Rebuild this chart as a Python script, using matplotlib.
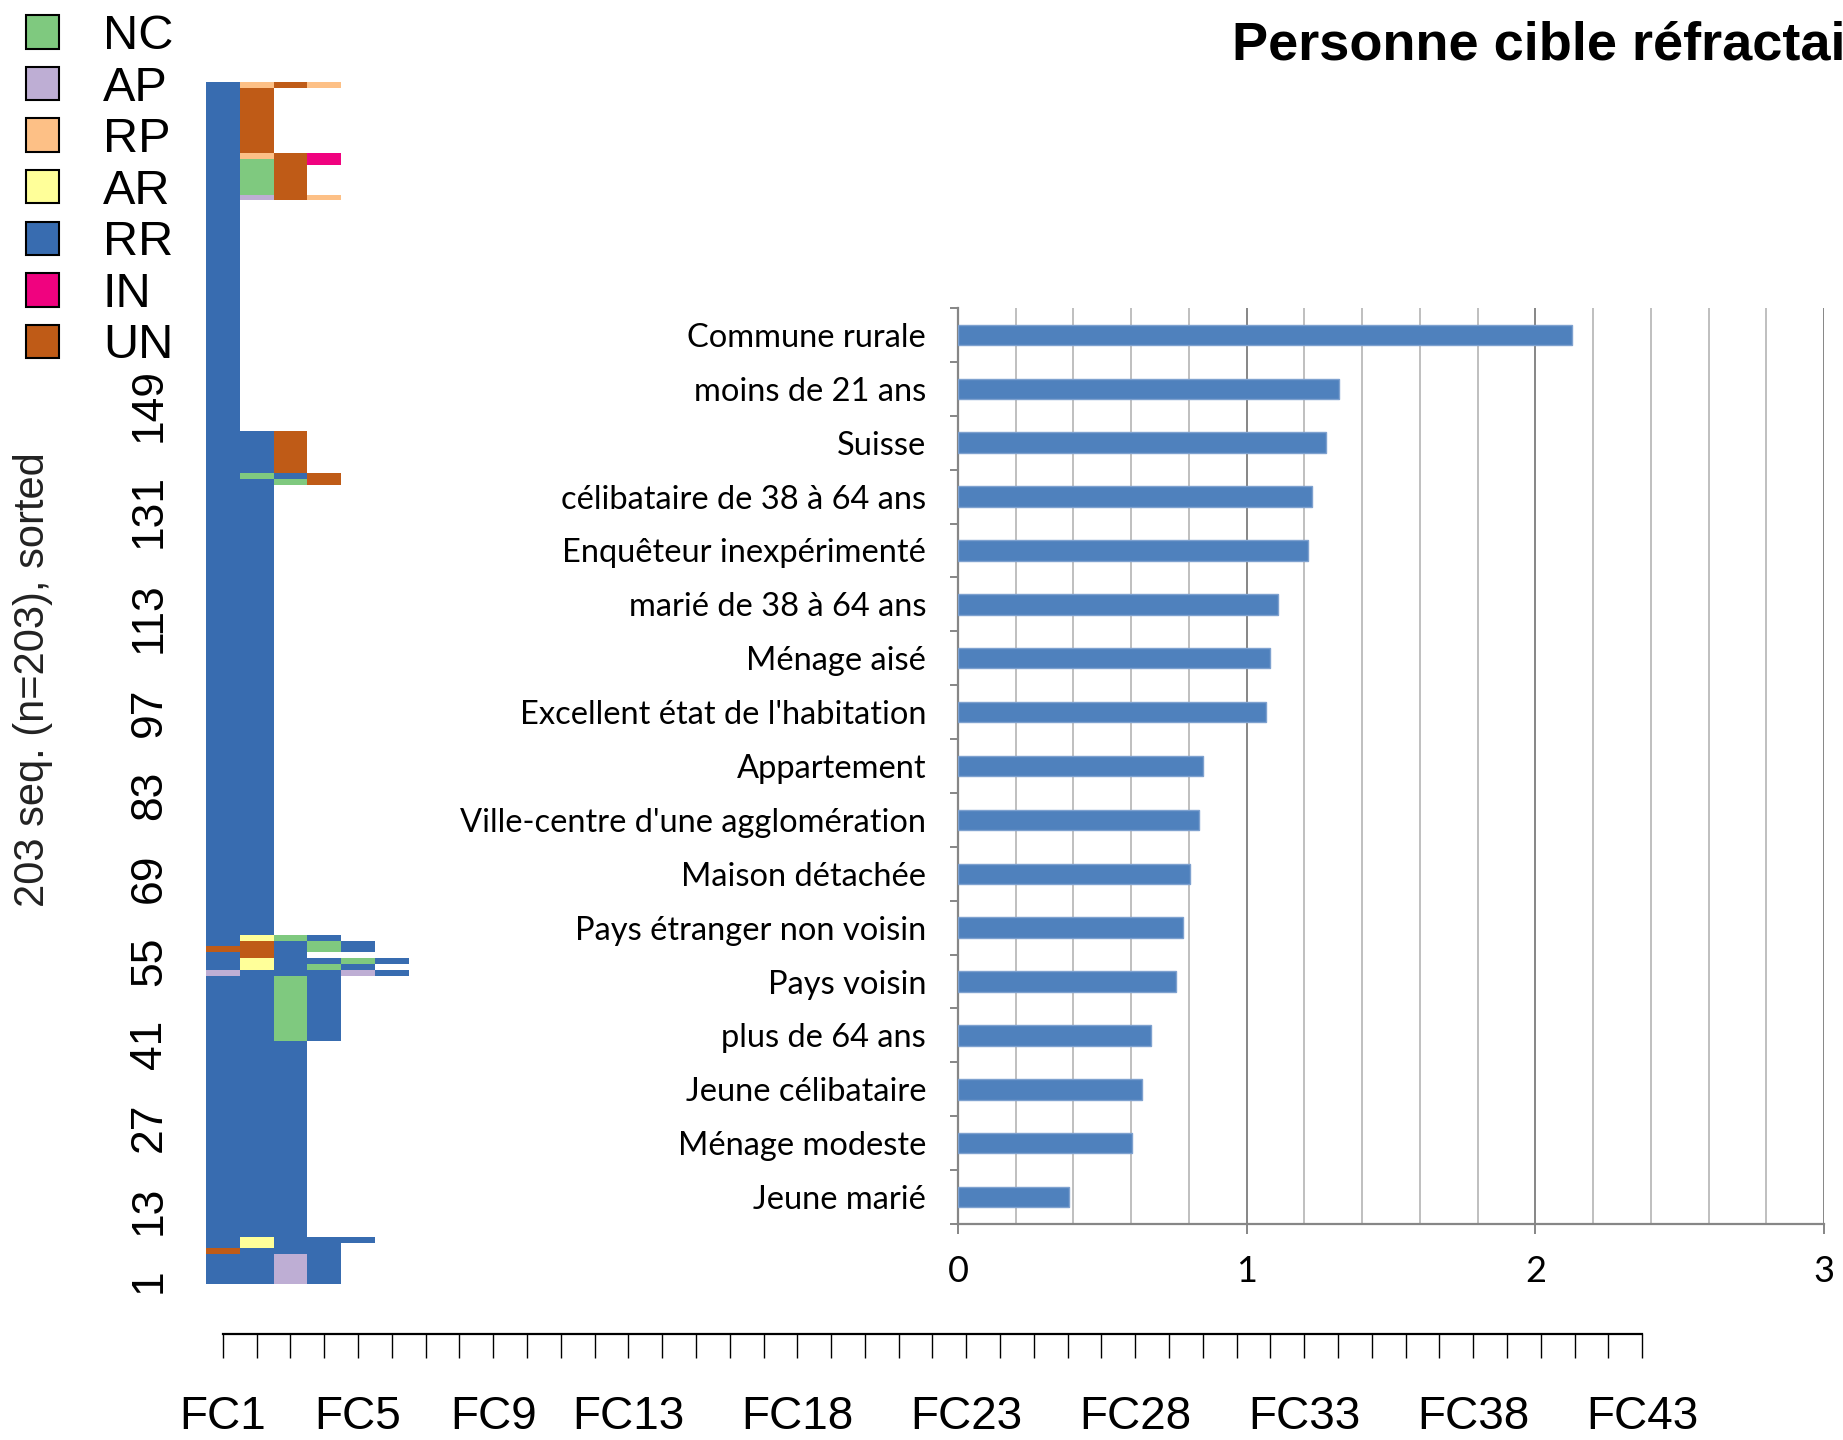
import numpy as np
import matplotlib
matplotlib.use("Agg")
import matplotlib.pyplot as plt
from matplotlib.colors import ListedColormap
from matplotlib.patches import Patch
from matplotlib.ticker import MultipleLocator

# sequence states (legend order) and their colours
states = ["NC", "AP", "RP", "AR", "RR", "IN", "UN"]
state_colors = ["#7FC97F", "#BEAED4", "#FDC086", "#FFFF99", "#386CB0", "#F0027F", "#BF5B17"]

# sequences, grouped, listed from the top row of the plot downwards
seq_groups = [
    (1, "RR-RP-UN-RP"),
    (11, "RR-UN"),
    (1, "RR-RP-UN-IN"),
    (1, "RR-NC-UN-IN"),
    (5, "RR-NC-UN"),
    (1, "RR-AP-UN-RP"),
    (39, "RR"),
    (7, "RR-RR-UN"),
    (1, "RR-NC-RR-UN"),
    (1, "RR-RR-NC-UN"),
    (76, "RR-RR"),
    (1, "RR-AR-NC-RR"),
    (1, "RR-UN-RR-NC-RR"),
    (1, "UN-UN-RR-NC-RR"),
    (1, "RR-UN-RR"),
    (1, "RR-AR-RR-RR-NC-RR"),
    (1, "RR-AR-RR-NC-RR"),
    (1, "AP-RR-RR-RR-AP-RR"),
    (11, "RR-RR-NC-RR"),
    (33, "RR-RR-RR"),
    (1, "RR-AR-RR-RR-RR"),
    (1, "RR-AR-RR-RR"),
    (1, "UN-RR-RR-RR"),
    (5, "RR-RR-AP-RR"),
]
n_cols = 43
col_labels = ["FC%d" % i for i in range(1, n_cols + 1)]
shown_cols = [1, 5, 9, 13, 18, 23, 28, 33, 38, 43]
seq_ticks = [1, 13, 27, 41, 55, 69, 83, 97, 113, 131, 149]

# bar chart
categories = [
    "Commune rurale",
    "moins de 21 ans",
    "Suisse",
    "célibataire de 38 à 64 ans",
    "Enquêteur inexpérimenté",
    "marié de 38 à 64 ans",
    "Ménage aisé",
    "Excellent état de l'habitation",
    "Appartement",
    "Ville-centre d'une agglomération",
    "Maison détachée",
    "Pays étranger non voisin",
    "Pays voisin",
    "plus de 64 ans",
    "Jeune célibataire",
    "Ménage modeste",
    "Jeune marié",
]
values = [2.126, 1.320, 1.276, 1.228, 1.214, 1.107, 1.081, 1.068,
          0.848, 0.836, 0.803, 0.779, 0.755, 0.670, 0.637, 0.604, 0.385]

title = "Personne cible réfractaire"

W, H = 1843, 1440
fig = plt.figure(figsize=(W / 100, H / 100), dpi=100)
rfont = ["Liberation Sans"]

# ---- sequence index plot ----
ax = fig.add_axes([206 / W, 1 - 1284 / H, 1453 / W, 1202 / H])
rows = []
for n, s in seq_groups:
    rows += [s.split("-")] * n
rows = rows[::-1]  # seq 1 at the bottom
grid = np.full((len(rows), n_cols), np.nan)
for i, seq in enumerate(rows):
    for j, st in enumerate(seq):
        grid[i, j] = states.index(st)
cmap = ListedColormap(state_colors)
cmap.set_bad((1, 1, 1, 0))
ax.pcolormesh(np.arange(0.5, n_cols + 1), np.arange(0, len(rows) + 1),
              np.ma.masked_invalid(grid), cmap=cmap, vmin=-0.5, vmax=6.5,
              antialiased=False)
ax.set_xlim(0.5, n_cols + 0.5)
ax.set_ylim(0, len(rows))
for sp in ["top", "right", "left"]:
    ax.spines[sp].set_visible(False)
ax.spines["bottom"].set_position(("outward", 36))
ax.spines["bottom"].set_bounds(1, n_cols)
ax.spines["bottom"].set_linewidth(1.6)
ax.set_xticks(range(1, n_cols + 1))
ax.set_xticklabels([l if i + 1 in shown_cols else "" for i, l in enumerate(col_labels)],
                   family=rfont, fontsize=33)
ax.tick_params(axis="x", length=17, width=1, pad=27)
ax.set_yticks([s - 0.5 for s in seq_ticks])
ax.set_yticklabels([str(s) for s in seq_ticks], rotation=90, va="center",
                   family=rfont, fontsize=32)
ax.tick_params(axis="y", length=0, pad=26)
fig.text(33 / W, 1 - 680 / H, "203 seq. (n=203), sorted", rotation=90,
         ha="center", va="center", family=rfont, fontsize=30, color="#222222")

handles = [Patch(facecolor=c, edgecolor="black", linewidth=1.5, label=s)
           for s, c in zip(states, state_colors)]
fig.legend(handles=handles, loc="upper left", bbox_to_anchor=(-8 / W, 1 + 20 / H),
           frameon=False, prop={"family": rfont, "size": 35},
           handlelength=0.68, handleheight=0.68, handletextpad=0.9,
           labelspacing=0.135, borderpad=0.2)

# ---- bar chart ----
bx = fig.add_axes([958 / W, 1 - 1224 / H, 866 / W, 916 / H])
bx.patch.set_alpha(0)
pos = np.arange(len(categories))
bx.barh(pos, values, height=0.38, color="#4F81BD", edgecolor="#7EA1CF",
        linewidth=1, zorder=3)
bx.set_xlim(0, 3)
bx.set_ylim(len(categories) - 0.5, -0.5)
bx.set_xticks([0, 1, 2, 3])
bx.xaxis.set_minor_locator(MultipleLocator(0.2))
bx.grid(True, which="minor", axis="x", color="#BFBFBF", linewidth=1.4, zorder=0)
bx.grid(True, which="major", axis="x", color="#868686", linewidth=1.4, zorder=0)
bx.set_yticks(pos)
bx.set_yticklabels(categories, family="Lato", fontsize=23.5)
bx.set_yticks(np.arange(-0.5, len(categories)), minor=True)
bx.tick_params(axis="y", which="major", length=0, pad=23)
bx.tick_params(axis="y", which="minor", length=6, width=1.4, color="#868686")
bx.tick_params(axis="x", which="major", length=7, width=1.4, color="#868686",
               labelsize=26, pad=15)
bx.tick_params(axis="x", which="minor", length=0)
for lab in bx.get_xticklabels():
    lab.set_family("Lato")
for sp in ["top", "right"]:
    bx.spines[sp].set_visible(False)
for sp in ["left", "bottom"]:
    bx.spines[sp].set_color("#868686")
    bx.spines[sp].set_linewidth(1.6)

# the title runs past the right edge, as in the original image
fig.text(1232 / W, 1 - 45 / H, title, ha="left", va="center",
         family="Liberation Sans", fontweight="bold", fontsize=39)

fig.savefig("out.png", dpi=100, facecolor="white")
